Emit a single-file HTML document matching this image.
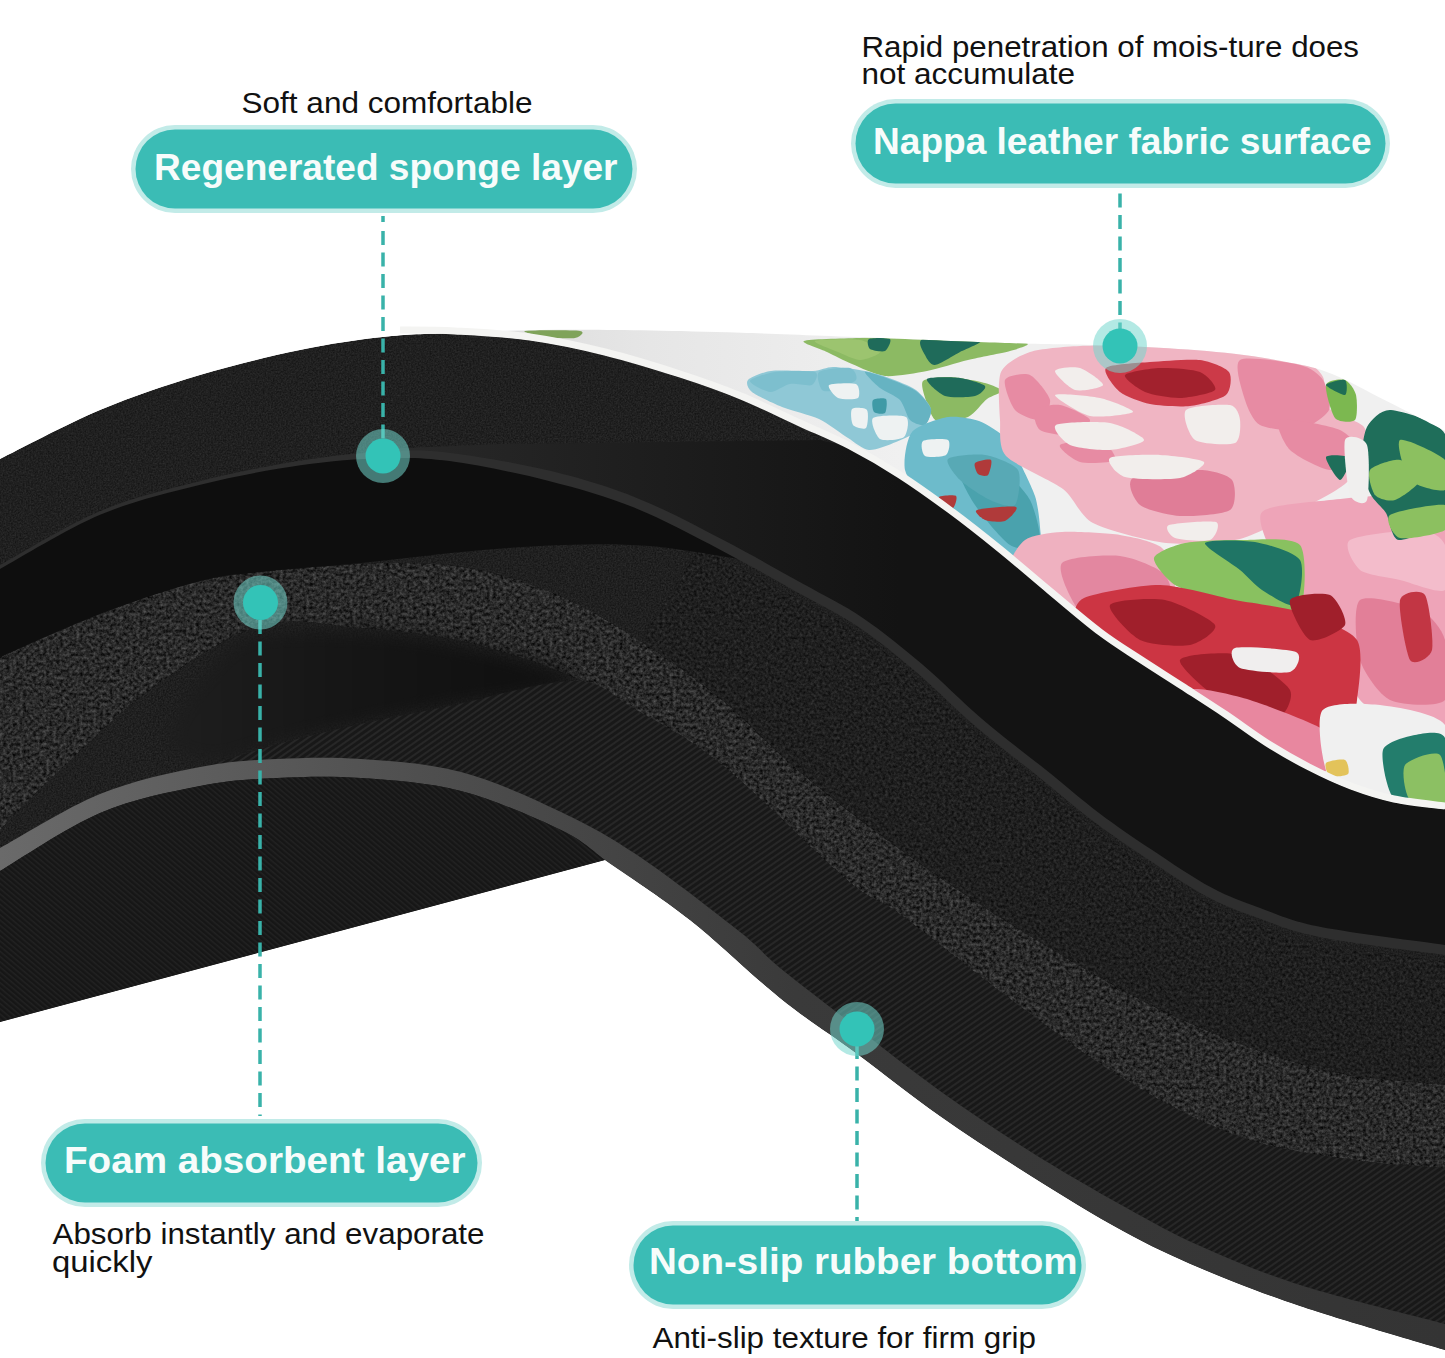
<!DOCTYPE html>
<html><head><meta charset="utf-8"><style>
html,body{margin:0;padding:0;background:#fff;width:1445px;height:1358px;overflow:hidden}
svg{display:block}
</style></head><body>
<svg width="1445" height="1358" viewBox="0 0 1445 1358">
<defs>
<filter id="grain" x="0" y="0" width="100%" height="100%">
  <feTurbulence type="fractalNoise" baseFrequency="0.9" numOctaves="2" seed="3" result="n"/>
  <feColorMatrix in="n" type="matrix" values="0 0 0 0 1  0 0 0 0 1  0 0 0 0 1  0 0 0 0.22 -0.06" result="na"/>
  <feComposite in="na" in2="SourceGraphic" operator="in" result="nb"/>
  <feMerge><feMergeNode in="SourceGraphic"/><feMergeNode in="nb"/></feMerge>
</filter>
<linearGradient id="bandg" x1="380" y1="0" x2="900" y2="0" gradientUnits="userSpaceOnUse">
  <stop offset="0" stop-color="#2a2a2a"/><stop offset="0.45" stop-color="#1f1f1f"/><stop offset="1" stop-color="#131313"/>
</linearGradient>
<linearGradient id="gg" x1="0" y1="0" x2="1445" y2="0" gradientUnits="userSpaceOnUse">
  <stop offset="0" stop-color="#6a6a6a"/><stop offset="0.3" stop-color="#4e4e4e"/><stop offset="0.55" stop-color="#3a3a3a"/><stop offset="1" stop-color="#343434"/>
</linearGradient>
<linearGradient id="flg" x1="400" y1="0" x2="900" y2="0" gradientUnits="userSpaceOnUse">
  <stop offset="0" stop-color="#d6d6d6"/><stop offset="0.5" stop-color="#e6e6e6"/><stop offset="1" stop-color="#f0f0f0"/>
</linearGradient>
<filter id="blur8" x="-20%" y="-20%" width="140%" height="140%" color-interpolation-filters="sRGB"><feGaussianBlur stdDeviation="9"/></filter>
<filter id="speck" x="0" y="0" width="100%" height="100%" color-interpolation-filters="sRGB">
  <feTurbulence type="fractalNoise" baseFrequency="0.3" numOctaves="3" seed="11" result="t"/>
  <feColorMatrix in="t" type="matrix" values="1 0 0 0 0  1 0 0 0 0  1 0 0 0 0  0 0 0 0 1" result="g"/>
  <feComposite in="g" in2="SourceGraphic" operator="arithmetic" k1="0" k2="0.40" k3="1" k4="-0.20" result="s"/>
  <feComposite in="s" in2="SourceAlpha" operator="in"/>
</filter>
<filter id="speck2" x="0" y="0" width="100%" height="100%" color-interpolation-filters="sRGB">
  <feTurbulence type="fractalNoise" baseFrequency="0.35" numOctaves="3" seed="21" result="t"/>
  <feColorMatrix in="t" type="matrix" values="1 0 0 0 0  1 0 0 0 0  1 0 0 0 0  0 0 0 0 1" result="g"/>
  <feComposite in="g" in2="SourceGraphic" operator="arithmetic" k1="0" k2="0.22" k3="1" k4="-0.11" result="s"/>
  <feComposite in="s" in2="SourceAlpha" operator="in"/>
</filter>
<filter id="fine" x="0" y="0" width="100%" height="100%" color-interpolation-filters="sRGB">
  <feTurbulence type="fractalNoise" baseFrequency="0.6" numOctaves="2" seed="4" result="t"/>
  <feColorMatrix in="t" type="matrix" values="1 0 0 0 0  1 0 0 0 0  1 0 0 0 0  0 0 0 0 1" result="g"/>
  <feComposite in="g" in2="SourceGraphic" operator="arithmetic" k1="0" k2="0.14" k3="1" k4="-0.07" result="s"/>
  <feComposite in="s" in2="SourceAlpha" operator="in"/>
</filter>
<pattern id="diag" width="5" height="5" patternUnits="userSpaceOnUse" patternTransform="rotate(-35)">
  <rect width="5" height="5" fill="#181818"/><rect width="5" height="2" fill="#272727"/>
</pattern>
<pattern id="diag2" width="4" height="4" patternUnits="userSpaceOnUse" patternTransform="rotate(40)">
  <rect width="4" height="4" fill="#161616"/><rect width="4" height="1.5" fill="#222222"/>
</pattern>
<linearGradient id="shg" x1="170" y1="0" x2="500" y2="0" gradientUnits="userSpaceOnUse">
  <stop offset="0" stop-color="#1e1e1e"/><stop offset="0.5" stop-color="#161616"/><stop offset="1" stop-color="#111111"/>
</linearGradient>
<clipPath id="fclip"><path d="M400.0,329.0 C409.2,329.5 425.0,331.7 455.0,331.8 C485.0,331.9 532.3,329.6 580.0,329.8 C627.7,330.0 671.0,330.6 741.0,332.8 C811.0,335.0 942.8,340.8 1000.0,342.8 C1057.2,344.8 1057.5,344.0 1084.0,344.8 C1110.5,345.6 1134.0,346.3 1159.0,347.8 C1184.0,349.3 1211.2,351.1 1234.0,353.8 C1256.8,356.5 1279.3,360.3 1296.0,363.8 C1312.7,367.3 1319.3,368.8 1334.0,374.8 C1348.7,380.8 1365.5,390.5 1384.0,399.8 C1402.5,409.1 1434.8,425.6 1445.0,430.8 L1445.0,809.0 C1436.5,807.8 1409.7,805.3 1394.0,802.0 C1378.3,798.7 1365.2,794.3 1351.0,789.0 C1336.8,783.7 1323.0,777.2 1309.0,770.0 C1295.0,762.8 1281.0,754.8 1267.0,746.0 C1253.0,737.2 1239.2,726.5 1225.0,717.0 C1210.8,707.5 1196.2,698.2 1182.0,689.0 C1167.8,679.8 1153.7,671.0 1140.0,662.0 C1126.3,653.0 1115.0,646.3 1100.0,635.0 C1085.0,623.7 1066.7,607.8 1050.0,594.0 C1033.3,580.2 1016.7,565.5 1000.0,552.0 C983.3,538.5 966.7,525.3 950.0,513.0 C933.3,500.7 916.7,488.7 900.0,478.0 C883.3,467.3 866.7,457.7 850.0,449.0 C833.3,440.3 818.2,434.3 800.0,426.0 C781.8,417.7 761.0,407.2 741.0,399.0 C721.0,390.8 702.7,384.3 680.0,377.0 C657.3,369.7 630.0,361.2 605.0,355.0 C580.0,348.8 555.0,343.5 530.0,340.0 C505.0,336.5 476.7,335.2 455.0,334.0 C433.3,332.8 409.2,333.2 400.0,333.0 Z"/></clipPath>
</defs>
<rect width="1445" height="1358" fill="#ffffff"/>

<path d="M0.0,459.0 C16.7,450.8 66.7,424.0 100.0,410.0 C133.3,396.0 166.7,385.0 200.0,375.0 C233.3,365.0 269.5,356.3 300.0,350.0 C330.5,343.7 357.2,339.8 383.0,337.0 C408.8,334.2 422.2,334.0 455.0,333.0 C487.8,332.0 532.3,330.8 580.0,331.0 C627.7,331.2 671.0,331.8 741.0,334.0 C811.0,336.2 942.8,342.0 1000.0,344.0 C1057.2,346.0 1057.5,345.2 1084.0,346.0 C1110.5,346.8 1134.0,347.5 1159.0,349.0 C1184.0,350.5 1211.2,352.3 1234.0,355.0 C1256.8,357.7 1279.3,361.5 1296.0,365.0 C1312.7,368.5 1319.3,370.0 1334.0,376.0 C1348.7,382.0 1365.5,391.7 1384.0,401.0 C1402.5,410.3 1434.8,426.8 1445.0,432.0 L1445.0,1350.0 C1420.8,1342.7 1340.8,1319.7 1300.0,1306.0 C1259.2,1292.3 1229.5,1280.5 1200.0,1268.0 C1170.5,1255.5 1151.2,1246.3 1123.0,1231.0 C1094.8,1215.7 1061.5,1195.2 1031.0,1176.0 C1000.5,1156.8 969.2,1136.5 940.0,1116.0 C910.8,1095.5 882.7,1072.7 856.0,1053.0 C829.3,1033.3 807.7,1020.2 780.0,998.0 C752.3,975.8 719.2,943.0 690.0,920.0 C660.8,897.0 619.2,870.0 605.0,860.0 L0.0,1022.0 Z" fill="#202020" filter="url(#fine)"/>
<path d="M700.0,548.0 C716.7,556.7 773.3,585.7 800.0,600.0 C826.7,614.3 840.2,620.7 860.0,634.0 C879.8,647.3 899.3,663.3 919.0,680.0 C938.7,696.7 957.3,716.3 978.0,734.0 C998.7,751.7 1023.3,770.2 1043.0,786.0 C1062.7,801.8 1078.3,815.7 1096.0,829.0 C1113.7,842.3 1130.2,853.5 1149.0,866.0 C1167.8,878.5 1190.7,894.2 1209.0,904.0 C1227.3,913.8 1240.5,918.3 1259.0,925.0 C1277.5,931.7 1289.0,937.8 1320.0,944.0 C1351.0,950.2 1424.2,959.0 1445.0,962.0 L1445.0,1085.0 C1423.3,1082.2 1361.7,1080.2 1315.0,1068.0 C1268.3,1055.8 1215.2,1035.7 1165.0,1012.0 C1114.8,988.3 1058.0,953.0 1014.0,926.0 C970.0,899.0 936.7,875.7 901.0,850.0 C865.3,824.3 829.8,797.0 800.0,772.0 C770.2,747.0 748.7,721.8 722.0,700.0 C695.3,678.2 653.7,650.8 640.0,641.0 Z" fill="#1f1f1f" filter="url(#speck2)"/>
<path d="M0.0,657.0 C16.7,649.8 66.7,626.7 100.0,614.0 C133.3,601.3 166.7,588.7 200.0,581.0 C233.3,573.3 266.7,571.0 300.0,568.0 C333.3,565.0 370.0,562.7 400.0,563.0 C430.0,563.3 453.3,564.5 480.0,570.0 C506.7,575.5 533.3,584.2 560.0,596.0 C586.7,607.8 613.0,623.7 640.0,641.0 C667.0,658.3 695.3,678.2 722.0,700.0 C748.7,721.8 770.2,747.0 800.0,772.0 C829.8,797.0 865.3,824.3 901.0,850.0 C936.7,875.7 970.0,899.0 1014.0,926.0 C1058.0,953.0 1114.8,988.3 1165.0,1012.0 C1215.2,1035.7 1268.3,1055.8 1315.0,1068.0 C1361.7,1080.2 1423.3,1082.2 1445.0,1085.0 C1445.0,1098.8 1445.0,1154.2 1445.0,1168.0 C1429.7,1166.7 1387.2,1165.2 1353.0,1160.0 C1318.8,1154.8 1277.7,1150.2 1240.0,1137.0 C1202.3,1123.8 1164.7,1103.5 1127.0,1081.0 C1089.3,1058.5 1051.7,1029.7 1014.0,1002.0 C976.3,974.3 928.8,935.3 901.0,915.0 C873.2,894.7 876.8,905.0 847.0,880.0 C817.2,855.0 757.2,793.3 722.0,765.0 C686.8,736.7 662.8,725.5 636.0,710.0 C609.2,694.5 590.2,683.5 561.0,672.0 C531.8,660.5 494.3,648.3 461.0,641.0 C427.7,633.7 394.5,630.5 361.0,628.0 C327.5,625.5 295.2,615.7 260.0,626.0 C224.8,636.3 183.3,666.0 150.0,690.0 C116.7,714.0 85.0,746.7 60.0,770.0 C35.0,793.3 10.0,820.0 0.0,830.0 Z" fill="#2a2a2a" filter="url(#speck)"/>
<path d="M185.0,700.0 C194.2,684.2 212.5,661.2 225.0,650.0 C237.5,638.8 237.3,636.0 260.0,633.0 C282.7,630.0 327.5,630.0 361.0,632.0 C394.5,634.0 425.3,636.8 461.0,645.0 C496.7,653.2 576.8,670.8 575.0,681.0 C573.2,691.2 485.7,698.8 450.0,706.0 C414.3,713.2 389.3,717.7 361.0,724.0 C332.7,730.3 304.3,737.7 280.0,744.0 C255.7,750.3 233.3,761.8 215.0,762.0 C196.7,762.2 175.0,755.3 170.0,745.0 C165.0,734.7 175.8,715.8 185.0,700.0 Z" fill="url(#shg)" filter="url(#blur8)"/>
<path d="M200.0,768.0 C212.5,764.2 248.2,752.3 275.0,745.0 C301.8,737.7 331.8,730.5 361.0,724.0 C390.2,717.5 414.3,713.2 450.0,706.0 C485.7,698.8 544.0,680.3 575.0,681.0 C606.0,681.7 611.5,696.0 636.0,710.0 C660.5,724.0 686.8,736.7 722.0,765.0 C757.2,793.3 817.2,855.0 847.0,880.0 C876.8,905.0 873.2,894.7 901.0,915.0 C928.8,935.3 976.3,974.3 1014.0,1002.0 C1051.7,1029.7 1089.3,1058.5 1127.0,1081.0 C1164.7,1103.5 1202.3,1123.8 1240.0,1137.0 C1277.7,1150.2 1318.8,1154.8 1353.0,1160.0 C1387.2,1165.2 1429.7,1166.7 1445.0,1168.0 L1445.0,1324.0 C1420.8,1317.5 1340.8,1298.0 1300.0,1285.0 C1259.2,1272.0 1229.5,1259.2 1200.0,1246.0 C1170.5,1232.8 1151.2,1221.7 1123.0,1206.0 C1094.8,1190.3 1061.5,1171.2 1031.0,1152.0 C1000.5,1132.8 969.2,1111.8 940.0,1091.0 C910.8,1070.2 882.7,1047.5 856.0,1027.0 C829.3,1006.5 799.3,983.8 780.0,968.0 C760.7,952.2 763.3,950.5 740.0,932.0 C716.7,913.5 669.8,877.0 640.0,857.0 C610.2,837.0 590.8,826.2 561.0,812.0 C531.2,797.8 494.3,780.8 461.0,772.0 C427.7,763.2 391.7,761.2 361.0,759.0 C330.3,756.8 303.8,757.7 277.0,759.0 C250.2,760.3 212.8,765.7 200.0,767.0 Z" fill="url(#diag)"/>
<path d="M0.0,848.0 C16.7,839.0 66.7,807.5 100.0,794.0 C133.3,780.5 170.5,772.8 200.0,767.0 C229.5,761.2 250.2,760.3 277.0,759.0 C303.8,757.7 330.3,756.8 361.0,759.0 C391.7,761.2 427.7,763.2 461.0,772.0 C494.3,780.8 531.2,797.8 561.0,812.0 C590.8,826.2 610.2,837.0 640.0,857.0 C669.8,877.0 716.7,913.5 740.0,932.0 C763.3,950.5 760.7,952.2 780.0,968.0 C799.3,983.8 829.3,1006.5 856.0,1027.0 C882.7,1047.5 910.8,1070.2 940.0,1091.0 C969.2,1111.8 1000.5,1132.8 1031.0,1152.0 C1061.5,1171.2 1094.8,1190.3 1123.0,1206.0 C1151.2,1221.7 1170.5,1232.8 1200.0,1246.0 C1229.5,1259.2 1259.2,1272.0 1300.0,1285.0 C1340.8,1298.0 1420.8,1317.5 1445.0,1324.0 L1445.0,1350.0 C1420.8,1342.7 1340.8,1319.7 1300.0,1306.0 C1259.2,1292.3 1229.5,1280.5 1200.0,1268.0 C1170.5,1255.5 1151.2,1246.3 1123.0,1231.0 C1094.8,1215.7 1061.5,1195.2 1031.0,1176.0 C1000.5,1156.8 969.2,1136.5 940.0,1116.0 C910.8,1095.5 882.7,1072.7 856.0,1053.0 C829.3,1033.3 807.7,1020.2 780.0,998.0 C752.3,975.8 719.2,943.0 690.0,920.0 C660.8,897.0 626.5,875.0 605.0,860.0 C583.5,845.0 585.0,841.5 561.0,830.0 C537.0,818.5 494.3,799.7 461.0,791.0 C427.7,782.3 391.7,780.2 361.0,778.0 C330.3,775.8 303.8,776.7 277.0,778.0 C250.2,779.3 229.5,780.2 200.0,786.0 C170.5,791.8 133.3,798.8 100.0,813.0 C66.7,827.2 16.7,861.3 0.0,871.0 Z" fill="url(#gg)"/>
<path d="M0.0,871.0 C16.7,861.3 66.7,827.2 100.0,813.0 C133.3,798.8 170.5,791.8 200.0,786.0 C229.5,780.2 250.2,779.3 277.0,778.0 C303.8,776.7 330.3,775.8 361.0,778.0 C391.7,780.2 427.7,782.3 461.0,791.0 C494.3,799.7 537.0,818.5 561.0,830.0 C585.0,841.5 597.7,855.0 605.0,860.0 L0.0,1022.0 Z" fill="url(#diag2)"/>
<path d="M383,449 L500,444 L820,440 C825.0,441.5 836.7,442.7 850.0,449.0 C863.3,455.3 883.3,467.3 900.0,478.0 C916.7,488.7 933.3,500.7 950.0,513.0 C966.7,525.3 983.3,538.5 1000.0,552.0 C1016.7,565.5 1033.3,580.2 1050.0,594.0 C1066.7,607.8 1085.0,623.7 1100.0,635.0 C1115.0,646.3 1126.3,653.0 1140.0,662.0 C1153.7,671.0 1167.8,679.8 1182.0,689.0 C1196.2,698.2 1210.8,707.5 1225.0,717.0 C1239.2,726.5 1253.0,737.2 1267.0,746.0 C1281.0,754.8 1295.0,762.8 1309.0,770.0 C1323.0,777.2 1336.8,783.7 1351.0,789.0 C1365.2,794.3 1378.3,798.7 1394.0,802.0 C1409.7,805.3 1436.5,807.8 1445.0,809.0 L1445.0,950.0 C1424.2,947.0 1351.0,938.2 1320.0,932.0 C1289.0,925.8 1277.5,919.7 1259.0,913.0 C1240.5,906.3 1227.3,901.8 1209.0,892.0 C1190.7,882.2 1167.8,866.5 1149.0,854.0 C1130.2,841.5 1113.7,830.3 1096.0,817.0 C1078.3,803.7 1062.7,789.8 1043.0,774.0 C1023.3,758.2 998.7,739.7 978.0,722.0 C957.3,704.3 938.7,684.7 919.0,668.0 C899.3,651.3 879.8,635.3 860.0,622.0 C840.2,608.7 823.0,600.8 800.0,588.0 C777.0,575.2 749.3,559.2 722.0,545.0 C694.7,530.8 664.7,514.5 636.0,503.0 C607.3,491.5 581.0,483.7 550.0,476.0 C519.0,468.3 477.8,460.5 450.0,457.0 C422.2,453.5 394.2,455.3 383.0,455.0 Z" fill="url(#bandg)"/>
<path d="M-5.0,570.0 C-4.2,569.5 -17.5,576.5 0.0,567.0 C17.5,557.5 66.7,527.0 100.0,513.0 C133.3,499.0 166.7,491.3 200.0,483.0 C233.3,474.7 269.5,467.7 300.0,463.0 C330.5,458.3 358.0,456.0 383.0,455.0 C408.0,454.0 422.2,453.5 450.0,457.0 C477.8,460.5 519.0,468.3 550.0,476.0 C581.0,483.7 607.3,491.5 636.0,503.0 C664.7,514.5 707.7,538.0 722.0,545.0 L745.0,560.0 C729.2,557.7 680.7,548.5 650.0,546.0 C619.3,543.5 592.5,544.0 561.0,545.0 C529.5,546.0 494.3,549.0 461.0,552.0 C427.7,555.0 394.5,559.7 361.0,563.0 C327.5,566.3 286.8,569.0 260.0,572.0 C233.2,575.0 226.7,574.0 200.0,581.0 C173.3,588.0 133.3,601.3 100.0,614.0 C66.7,626.7 16.7,649.8 0.0,657.0 L-5.0,660.0 Z" fill="#0e0e0e"/>
<path d="M-5.9,568.5 C-5.1,568.0 -18.4,575.0 -0.8,565.5 C16.7,555.9 65.9,525.4 99.3,511.4 C132.7,497.4 166.2,489.8 199.6,481.3 C233.0,472.9 269.1,465.6 299.6,460.7 C330.2,455.7 357.7,453.0 382.9,451.7 C408.0,450.4 422.5,449.6 450.5,452.9 C478.6,456.1 520.0,463.6 551.2,471.1 C582.4,478.7 609.0,486.8 637.9,498.4 C666.7,509.9 696.9,526.3 724.3,540.6 C751.7,554.8 779.4,570.8 802.4,583.6 C825.5,596.5 842.8,604.4 862.8,617.9 C882.8,631.3 902.5,647.5 922.2,664.2 C942.0,680.9 960.6,700.5 981.2,718.2 C1001.9,735.9 1026.5,754.3 1046.1,770.1 C1065.8,785.9 1081.4,799.7 1099.0,813.0 C1116.6,826.3 1133.0,837.4 1151.8,849.8 C1170.5,862.3 1193.2,877.9 1211.4,887.6 C1229.5,897.3 1242.4,901.7 1260.7,908.3 C1279.0,914.9 1290.1,921.0 1321.0,927.1 C1351.8,933.2 1424.1,941.9 1445.7,945.1 C1467.4,948.2 1450.1,945.9 1451.0,946.1 L1449.0,955.9 C1448.2,955.7 1465.9,958.1 1444.3,954.9 C1422.6,951.8 1350.2,943.1 1319.0,936.9 C1287.9,930.7 1276.0,924.5 1257.3,917.7 C1238.6,911.0 1225.1,906.3 1206.6,896.4 C1188.1,886.5 1165.2,870.7 1146.2,858.2 C1127.3,845.6 1110.7,834.4 1093.0,821.0 C1075.3,807.6 1059.6,793.8 1039.9,777.9 C1020.2,762.0 995.4,743.5 974.8,725.8 C954.1,708.1 935.4,688.4 915.8,671.8 C896.2,655.2 876.9,639.4 857.2,626.1 C837.5,612.9 820.5,605.2 797.6,592.4 C774.6,579.6 746.9,563.6 719.7,549.4 C692.5,535.3 662.6,519.1 634.1,507.6 C605.7,496.2 579.6,488.6 548.8,480.9 C518.0,473.1 477.1,464.9 449.5,461.1 C421.9,457.4 408.0,457.6 383.1,458.3 C358.3,459.0 330.8,460.9 300.4,465.3 C269.9,469.7 233.7,476.5 200.4,484.7 C167.1,492.9 133.9,500.6 100.7,514.6 C67.4,528.6 18.3,559.1 0.8,568.5 C-16.6,578.0 -3.3,571.0 -4.1,571.5 Z" fill="#2e2e2e"/>
<path d="M400.0,329.0 C409.2,329.5 425.0,331.7 455.0,331.8 C485.0,331.9 532.3,329.6 580.0,329.8 C627.7,330.0 671.0,330.6 741.0,332.8 C811.0,335.0 942.8,340.8 1000.0,342.8 C1057.2,344.8 1057.5,344.0 1084.0,344.8 C1110.5,345.6 1134.0,346.3 1159.0,347.8 C1184.0,349.3 1211.2,351.1 1234.0,353.8 C1256.8,356.5 1279.3,360.3 1296.0,363.8 C1312.7,367.3 1319.3,368.8 1334.0,374.8 C1348.7,380.8 1365.5,390.5 1384.0,399.8 C1402.5,409.1 1434.8,425.6 1445.0,430.8 L1445.0,809.0 C1436.5,807.8 1409.7,805.3 1394.0,802.0 C1378.3,798.7 1365.2,794.3 1351.0,789.0 C1336.8,783.7 1323.0,777.2 1309.0,770.0 C1295.0,762.8 1281.0,754.8 1267.0,746.0 C1253.0,737.2 1239.2,726.5 1225.0,717.0 C1210.8,707.5 1196.2,698.2 1182.0,689.0 C1167.8,679.8 1153.7,671.0 1140.0,662.0 C1126.3,653.0 1115.0,646.3 1100.0,635.0 C1085.0,623.7 1066.7,607.8 1050.0,594.0 C1033.3,580.2 1016.7,565.5 1000.0,552.0 C983.3,538.5 966.7,525.3 950.0,513.0 C933.3,500.7 916.7,488.7 900.0,478.0 C883.3,467.3 866.7,457.7 850.0,449.0 C833.3,440.3 818.2,434.3 800.0,426.0 C781.8,417.7 761.0,407.2 741.0,399.0 C721.0,390.8 702.7,384.3 680.0,377.0 C657.3,369.7 630.0,361.2 605.0,355.0 C580.0,348.8 555.0,343.5 530.0,340.0 C505.0,336.5 476.7,335.2 455.0,334.0 C433.3,332.8 409.2,333.2 400.0,333.0 Z" fill="url(#flg)"/>
<g clip-path="url(#fclip)"><path d="M525.0,331.0 C529.4,330.2 573.8,330.1 580.0,331.0 C586.2,331.9 579.4,337.2 575.0,338.0 C570.6,338.8 551.2,337.9 545.0,337.0 C538.8,336.1 520.6,331.8 525.0,331.0 Z" fill="#7fa35a"/>
<path d="M804.0,341.0 C808.1,339.2 841.8,338.4 860.0,338.0 C878.2,337.6 929.2,337.4 950.0,338.0 C970.8,338.6 1018.5,341.4 1026.0,343.0 C1033.5,344.6 1017.2,348.9 1010.0,351.0 C1002.8,353.1 978.4,357.5 968.0,360.0 C957.6,362.5 937.4,369.0 927.0,371.0 C916.6,373.0 894.4,376.9 885.0,376.0 C875.6,375.1 859.2,367.0 852.0,364.0 C844.8,361.0 833.0,354.9 827.0,352.0 C821.0,349.1 799.9,342.8 804.0,341.0 Z" fill="#8cba63"/>
<path d="M815.0,341.0 C817.8,339.5 851.9,338.6 860.0,340.0 C868.1,341.4 880.0,349.5 880.0,352.0 C880.0,354.5 865.2,360.0 860.0,360.0 C854.8,360.0 843.6,354.4 838.0,352.0 C832.4,349.6 812.2,342.5 815.0,341.0 Z" fill="#9cc46f"/>
<path d="M869.0,339.0 C871.5,337.8 888.0,337.5 890.0,339.0 C892.0,340.5 887.5,349.8 885.0,351.0 C882.5,352.2 872.0,350.5 870.0,349.0 C868.0,347.5 866.5,340.2 869.0,339.0 Z" fill="#1f6b5a"/>
<path d="M923.0,339.0 C930.0,337.1 976.4,338.4 981.0,340.0 C985.6,341.6 965.8,348.9 960.0,352.0 C954.2,355.1 939.4,364.6 935.0,365.0 C930.6,365.4 926.5,358.2 925.0,355.0 C923.5,351.8 916.0,340.9 923.0,339.0 Z" fill="#1f6b5a"/>
<path d="M923.0,381.0 C925.9,377.8 942.2,376.8 950.0,377.0 C957.8,377.2 978.5,381.2 985.0,383.0 C991.5,384.8 1001.8,389.0 1002.0,391.0 C1002.2,393.0 991.2,395.8 987.0,399.0 C982.8,402.2 974.2,414.2 968.0,417.0 C961.8,419.8 942.1,422.8 937.0,421.0 C931.9,419.2 928.8,408.0 927.0,403.0 C925.2,398.0 920.1,384.2 923.0,381.0 Z" fill="#8cba63"/>
<path d="M927.0,379.0 C928.9,376.8 952.8,377.1 960.0,378.0 C967.2,378.9 983.1,383.8 985.0,386.0 C986.9,388.2 980.0,394.8 975.0,396.0 C970.0,397.2 951.0,398.1 945.0,396.0 C939.0,393.9 925.1,381.2 927.0,379.0 Z" fill="#1f6b5a"/>
<path d="M748.0,380.0 C750.4,377.4 762.9,372.1 771.0,371.0 C779.1,369.9 805.2,371.5 813.0,371.0 C820.8,370.5 826.5,367.0 833.0,367.0 C839.5,367.0 858.0,369.6 865.0,371.0 C872.0,372.4 882.6,375.6 889.0,378.0 C895.4,380.4 910.8,386.1 916.0,390.0 C921.2,393.9 930.1,404.2 931.0,409.0 C931.9,413.8 927.4,423.9 923.0,428.0 C918.6,432.1 902.8,439.2 896.0,442.0 C889.2,444.8 875.0,450.5 869.0,450.0 C863.0,449.5 854.2,441.9 848.0,438.0 C841.8,434.1 827.2,422.9 819.0,419.0 C810.8,415.1 790.4,410.4 782.0,407.0 C773.6,403.6 756.2,395.4 752.0,392.0 C747.8,388.6 745.6,382.6 748.0,380.0 Z" fill="#8fc8d6"/>
<path d="M750.0,381.0 C750.6,378.5 766.9,373.1 775.0,372.0 C783.1,370.9 810.4,370.4 815.0,372.0 C819.6,373.6 815.1,383.5 812.0,385.0 C808.9,386.5 795.2,383.1 790.0,384.0 C784.8,384.9 775.0,392.4 770.0,392.0 C765.0,391.6 749.4,383.5 750.0,381.0 Z" fill="#7dbfce"/>
<path d="M865.0,372.0 C866.1,370.9 882.6,376.6 889.0,379.0 C895.4,381.4 910.8,387.2 916.0,391.0 C921.2,394.8 929.9,404.8 931.0,409.0 C932.1,413.2 927.6,423.6 925.0,425.0 C922.4,426.4 913.1,423.1 910.0,420.0 C906.9,416.9 903.8,404.0 900.0,400.0 C896.2,396.0 884.4,391.5 880.0,388.0 C875.6,384.5 863.9,373.1 865.0,372.0 Z" fill="#66b3c2"/>
<path d="M819.0,372.0 C822.5,369.2 845.4,367.0 850.0,368.0 C854.6,369.0 857.9,377.2 856.0,380.0 C854.1,382.8 839.2,388.8 835.0,390.0 C830.8,391.2 824.0,392.2 822.0,390.0 C820.0,387.8 815.5,374.8 819.0,372.0 Z" fill="#7dbfce"/>
<path d="M873.0,400.0 C874.5,398.4 884.5,397.4 886.0,399.0 C887.5,400.6 886.5,411.4 885.0,413.0 C883.5,414.6 875.5,413.6 874.0,412.0 C872.5,410.4 871.5,401.6 873.0,400.0 Z" fill="#3f9aa6"/>
<path d="M829.0,385.0 C831.2,383.2 852.4,382.4 856.0,384.0 C859.6,385.6 860.2,396.2 858.0,398.0 C855.8,399.8 841.6,399.6 838.0,398.0 C834.4,396.4 826.8,386.8 829.0,385.0 Z" fill="#eef2f2"/>
<path d="M852.0,409.0 C853.8,407.1 865.2,407.6 867.0,410.0 C868.8,412.4 867.8,426.1 866.0,428.0 C864.2,429.9 854.8,427.4 853.0,425.0 C851.2,422.6 850.2,410.9 852.0,409.0 Z" fill="#eef2f2"/>
<path d="M873.0,418.0 C876.2,415.2 902.1,414.6 906.0,417.0 C909.9,419.4 907.2,434.2 904.0,437.0 C900.8,439.8 883.9,441.4 880.0,439.0 C876.1,436.6 869.8,420.8 873.0,418.0 Z" fill="#eef2f2"/>
<path d="M912.0,432.0 C917.4,425.4 939.6,418.4 948.0,417.0 C956.4,415.6 971.8,418.4 979.0,421.0 C986.2,423.6 1001.1,433.2 1006.0,438.0 C1010.9,442.8 1014.4,451.8 1018.0,459.0 C1021.6,466.2 1032.2,487.5 1035.0,496.0 C1037.8,504.5 1039.4,519.0 1040.0,527.0 C1040.6,535.0 1043.8,555.9 1040.0,560.0 C1036.2,564.1 1019.0,563.8 1010.0,560.0 C1001.0,556.2 978.4,537.5 968.0,530.0 C957.6,522.5 934.9,507.5 927.0,500.0 C919.1,492.5 906.9,478.5 905.0,470.0 C903.1,461.5 906.6,438.6 912.0,432.0 Z" fill="#6dbbcb"/>
<path d="M960.0,470.0 C963.1,465.6 991.2,466.2 1000.0,470.0 C1008.8,473.8 1025.0,490.6 1030.0,500.0 C1035.0,509.4 1042.5,539.4 1040.0,545.0 C1037.5,550.6 1018.1,550.0 1010.0,545.0 C1001.9,540.0 981.2,514.4 975.0,505.0 C968.8,495.6 956.9,474.4 960.0,470.0 Z" fill="#4aa2ad"/>
<path d="M923.0,441.0 C925.9,439.0 945.1,438.2 948.0,440.0 C950.9,441.8 948.9,453.0 946.0,455.0 C943.1,457.0 927.9,457.8 925.0,456.0 C922.1,454.2 920.1,443.0 923.0,441.0 Z" fill="#eef2f2"/>
<path d="M948.0,459.0 C951.1,455.9 976.2,453.6 985.0,455.0 C993.8,456.4 1014.2,463.8 1018.0,470.0 C1021.8,476.2 1018.5,501.2 1015.0,505.0 C1011.5,508.8 996.9,503.1 990.0,500.0 C983.1,496.9 965.2,485.1 960.0,480.0 C954.8,474.9 944.9,462.1 948.0,459.0 Z" fill="#58a9b5"/>
<path d="M975.0,463.0 C976.6,461.2 989.4,458.5 991.0,460.0 C992.6,461.5 989.6,473.2 988.0,475.0 C986.4,476.8 979.6,475.5 978.0,474.0 C976.4,472.5 973.4,464.8 975.0,463.0 Z" fill="#b03a3a"/>
<path d="M977.0,510.0 C980.9,508.4 1012.5,505.6 1016.0,507.0 C1019.5,508.4 1008.9,519.4 1005.0,521.0 C1001.1,522.6 988.5,521.4 985.0,520.0 C981.5,518.6 973.1,511.6 977.0,510.0 Z" fill="#b03a3a"/>
<path d="M939.0,497.0 C940.9,495.6 954.2,494.6 956.0,496.0 C957.8,497.4 954.9,506.6 953.0,508.0 C951.1,509.4 942.8,508.4 941.0,507.0 C939.2,505.6 937.1,498.4 939.0,497.0 Z" fill="#b03a3a"/>
<path d="M1001.0,372.0 C1004.8,363.5 1020.1,355.2 1030.0,352.0 C1039.9,348.8 1063.8,346.8 1080.0,346.0 C1096.2,345.2 1140.0,345.5 1160.0,346.0 C1180.0,346.5 1222.0,348.0 1240.0,350.0 C1258.0,352.0 1293.6,358.6 1304.0,362.0 C1314.4,365.4 1319.9,371.2 1323.0,377.0 C1326.1,382.8 1323.9,401.8 1329.0,408.0 C1334.1,414.2 1359.6,421.0 1364.0,427.0 C1368.4,433.0 1366.4,448.9 1364.0,456.0 C1361.6,463.1 1353.0,477.2 1345.0,484.0 C1337.0,490.8 1313.1,503.1 1300.0,510.0 C1286.9,516.9 1256.8,534.9 1240.0,539.0 C1223.2,543.1 1184.4,545.0 1166.0,543.0 C1147.6,541.0 1105.9,529.8 1093.0,523.0 C1080.1,516.2 1073.9,497.4 1063.0,489.0 C1052.1,480.6 1013.9,464.6 1006.0,456.0 C998.1,447.4 1000.6,430.5 1000.0,420.0 C999.4,409.5 997.2,380.5 1001.0,372.0 Z" fill="#f0b5c3"/>
<path d="M1005.0,380.0 C1006.9,375.6 1024.4,372.5 1030.0,375.0 C1035.6,377.5 1048.8,394.4 1050.0,400.0 C1051.2,405.6 1044.4,418.8 1040.0,420.0 C1035.6,421.2 1019.4,415.0 1015.0,410.0 C1010.6,405.0 1003.1,384.4 1005.0,380.0 Z" fill="#e78ba3"/>
<path d="M1035.0,410.0 C1037.5,406.9 1053.1,403.8 1060.0,405.0 C1066.9,406.2 1088.8,416.2 1090.0,420.0 C1091.2,423.8 1076.2,433.8 1070.0,435.0 C1063.8,436.2 1044.4,433.1 1040.0,430.0 C1035.6,426.9 1032.5,413.1 1035.0,410.0 Z" fill="#e78ba3"/>
<path d="M1060.0,445.0 C1062.5,442.2 1093.1,438.1 1100.0,440.0 C1106.9,441.9 1117.5,457.2 1115.0,460.0 C1112.5,462.8 1086.9,463.9 1080.0,462.0 C1073.1,460.1 1057.5,447.8 1060.0,445.0 Z" fill="#e78ba3"/>
<path d="M1133.0,478.0 C1140.5,473.6 1187.6,469.8 1200.0,470.0 C1212.4,470.2 1228.2,475.0 1232.0,480.0 C1235.8,485.0 1236.5,505.5 1230.0,510.0 C1223.5,514.5 1191.2,516.6 1180.0,516.0 C1168.8,515.4 1145.9,509.8 1140.0,505.0 C1134.1,500.2 1125.5,482.4 1133.0,478.0 Z" fill="#e07d97"/>
<path d="M1240.0,360.0 C1246.9,355.6 1289.6,362.5 1300.0,365.0 C1310.4,367.5 1319.4,374.4 1323.0,380.0 C1326.6,385.6 1331.9,403.8 1329.0,410.0 C1326.1,416.2 1308.6,428.1 1300.0,430.0 C1291.4,431.9 1266.9,428.8 1260.0,425.0 C1253.1,421.2 1247.5,408.1 1245.0,400.0 C1242.5,391.9 1233.1,364.4 1240.0,360.0 Z" fill="#e78ba3"/>
<path d="M1280.0,420.0 C1286.2,417.5 1330.0,425.6 1340.0,430.0 C1350.0,434.4 1361.2,450.0 1360.0,455.0 C1358.8,460.0 1338.8,470.6 1330.0,470.0 C1321.2,469.4 1296.2,456.2 1290.0,450.0 C1283.8,443.8 1273.8,422.5 1280.0,420.0 Z" fill="#e78ba3"/>
<path d="M1055.0,371.0 C1055.6,368.2 1074.0,366.2 1080.0,368.0 C1086.0,369.8 1103.6,382.2 1103.0,385.0 C1102.4,387.8 1081.0,391.8 1075.0,390.0 C1069.0,388.2 1054.4,373.8 1055.0,371.0 Z" fill="#f2eeec"/>
<path d="M1055.0,395.0 C1056.2,392.8 1090.2,395.9 1100.0,398.0 C1109.8,400.1 1134.2,409.8 1133.0,412.0 C1131.8,414.2 1099.8,418.1 1090.0,416.0 C1080.2,413.9 1053.8,397.2 1055.0,395.0 Z" fill="#f2eeec"/>
<path d="M1056.0,425.0 C1061.0,422.2 1099.0,421.1 1110.0,423.0 C1121.0,424.9 1144.0,436.6 1144.0,440.0 C1144.0,443.4 1119.2,449.4 1110.0,450.0 C1100.8,450.6 1076.8,448.1 1070.0,445.0 C1063.2,441.9 1051.0,427.8 1056.0,425.0 Z" fill="#f2eeec"/>
<path d="M1110.0,458.0 C1114.4,455.2 1148.2,454.5 1160.0,455.0 C1171.8,455.5 1201.5,459.1 1204.0,462.0 C1206.5,464.9 1189.9,476.1 1180.0,478.0 C1170.1,479.9 1133.8,479.5 1125.0,477.0 C1116.2,474.5 1105.6,460.8 1110.0,458.0 Z" fill="#f2eeec"/>
<path d="M1186.0,410.0 C1190.4,405.6 1223.2,403.8 1230.0,405.0 C1236.8,406.2 1239.4,415.2 1240.0,420.0 C1240.6,424.8 1240.6,440.5 1235.0,443.0 C1229.4,445.5 1201.1,444.1 1195.0,440.0 C1188.9,435.9 1181.6,414.4 1186.0,410.0 Z" fill="#f2eeec"/>
<path d="M1169.0,525.0 C1174.1,523.0 1210.9,520.1 1216.0,522.0 C1221.1,523.9 1215.1,538.0 1210.0,540.0 C1204.9,542.0 1180.1,539.9 1175.0,538.0 C1169.9,536.1 1163.9,527.0 1169.0,525.0 Z" fill="#f2eeec"/>
<path d="M1106.0,368.0 C1109.8,364.2 1138.2,363.0 1150.0,362.0 C1161.8,361.0 1190.1,358.8 1200.0,360.0 C1209.9,361.2 1225.8,367.6 1229.0,372.0 C1232.2,376.4 1230.9,390.8 1226.0,395.0 C1221.1,399.2 1199.5,404.9 1190.0,406.0 C1180.5,407.1 1158.8,405.8 1150.0,404.0 C1141.2,402.2 1125.5,396.5 1120.0,392.0 C1114.5,387.5 1102.2,371.8 1106.0,368.0 Z" fill="#cc3a48"/>
<path d="M1125.0,375.0 C1126.9,372.0 1150.6,368.4 1160.0,368.0 C1169.4,367.6 1193.1,369.2 1200.0,372.0 C1206.9,374.8 1217.5,386.8 1215.0,390.0 C1212.5,393.2 1188.8,397.8 1180.0,398.0 C1171.2,398.2 1151.9,394.9 1145.0,392.0 C1138.1,389.1 1123.1,378.0 1125.0,375.0 Z" fill="#a2212d"/>
<path d="M1025.0,540.0 C1031.5,535.2 1050.1,532.6 1062.0,532.0 C1073.9,531.4 1107.5,533.0 1120.0,535.0 C1132.5,537.0 1155.1,541.8 1162.0,548.0 C1168.9,554.2 1175.2,575.8 1175.0,585.0 C1174.8,594.2 1169.4,612.6 1160.0,622.0 C1150.6,631.4 1115.0,660.2 1100.0,660.0 C1085.0,659.8 1051.2,631.2 1040.0,620.0 C1028.8,608.8 1011.9,580.0 1010.0,570.0 C1008.1,560.0 1018.5,544.8 1025.0,540.0 Z" fill="#efb1c0"/>
<path d="M1062.0,563.0 C1067.6,556.9 1107.1,554.5 1120.0,556.0 C1132.9,557.5 1158.8,567.6 1165.0,575.0 C1171.2,582.4 1176.9,606.9 1170.0,615.0 C1163.1,623.1 1121.9,641.2 1110.0,640.0 C1098.1,638.8 1081.0,614.6 1075.0,605.0 C1069.0,595.4 1056.4,569.1 1062.0,563.0 Z" fill="#e387a0"/>
<path d="M1262.0,512.0 C1268.9,504.5 1312.8,502.1 1330.0,500.0 C1347.2,497.9 1385.6,494.4 1400.0,495.0 C1414.4,495.6 1439.4,475.2 1445.0,505.0 C1450.6,534.8 1450.6,705.5 1445.0,733.0 C1439.4,760.5 1410.6,729.1 1400.0,725.0 C1389.4,720.9 1367.5,709.4 1360.0,700.0 C1352.5,690.6 1347.5,662.5 1340.0,650.0 C1332.5,637.5 1308.1,611.2 1300.0,600.0 C1291.9,588.8 1279.8,571.0 1275.0,560.0 C1270.2,549.0 1255.1,519.5 1262.0,512.0 Z" fill="#eea4b8"/>
<path d="M1350.0,540.0 C1357.5,535.0 1408.1,529.4 1420.0,530.0 C1431.9,530.6 1441.9,537.5 1445.0,545.0 C1448.1,552.5 1450.6,585.6 1445.0,590.0 C1439.4,594.4 1410.6,582.5 1400.0,580.0 C1389.4,577.5 1366.2,575.0 1360.0,570.0 C1353.8,565.0 1342.5,545.0 1350.0,540.0 Z" fill="#f3bccb"/>
<path d="M1360.0,600.0 C1367.5,593.8 1409.4,605.0 1420.0,610.0 C1430.6,615.0 1441.9,628.8 1445.0,640.0 C1448.1,651.2 1451.9,692.5 1445.0,700.0 C1438.1,707.5 1400.6,705.0 1390.0,700.0 C1379.4,695.0 1363.8,672.5 1360.0,660.0 C1356.2,647.5 1352.5,606.2 1360.0,600.0 Z" fill="#e27f98"/>
<path d="M1400.0,600.0 C1401.9,591.9 1421.0,588.8 1425.0,595.0 C1429.0,601.2 1433.9,641.9 1432.0,650.0 C1430.1,658.1 1414.0,666.2 1410.0,660.0 C1406.0,653.8 1398.1,608.1 1400.0,600.0 Z" fill="#c23644"/>
<path d="M1154.0,558.0 C1155.2,552.8 1174.2,545.2 1185.0,543.0 C1195.8,540.8 1225.6,539.8 1240.0,540.0 C1254.4,540.2 1292.5,536.1 1300.0,545.0 C1307.5,553.9 1305.0,602.6 1300.0,611.0 C1295.0,619.4 1270.6,613.6 1260.0,612.0 C1249.4,610.4 1225.6,601.4 1215.0,598.0 C1204.4,594.6 1182.6,590.0 1175.0,585.0 C1167.4,580.0 1152.8,563.2 1154.0,558.0 Z" fill="#89c160"/>
<path d="M1205.0,543.0 C1206.9,539.5 1243.1,539.9 1255.0,542.0 C1266.9,544.1 1295.0,552.1 1300.0,560.0 C1305.0,567.9 1299.8,601.2 1295.0,605.0 C1290.2,608.8 1268.9,594.4 1262.0,590.0 C1255.1,585.6 1247.1,575.9 1240.0,570.0 C1232.9,564.1 1203.1,546.5 1205.0,543.0 Z" fill="#1f7565"/>
<path d="M1084.0,598.0 C1094.6,593.0 1141.1,584.8 1160.0,585.0 C1178.9,585.2 1217.5,596.6 1235.0,600.0 C1252.5,603.4 1284.8,607.0 1300.0,612.0 C1315.2,617.0 1349.9,629.0 1357.0,640.0 C1364.1,651.0 1358.5,687.5 1357.0,700.0 C1355.5,712.5 1352.1,732.5 1345.0,740.0 C1337.9,747.5 1311.9,758.8 1300.0,760.0 C1288.1,761.2 1262.5,755.0 1250.0,750.0 C1237.5,745.0 1212.5,726.9 1200.0,720.0 C1187.5,713.1 1162.5,702.5 1150.0,695.0 C1137.5,687.5 1109.4,668.8 1100.0,660.0 C1090.6,651.2 1077.0,632.8 1075.0,625.0 C1073.0,617.2 1073.4,603.0 1084.0,598.0 Z" fill="#cc3543"/>
<path d="M1110.0,605.0 C1113.1,600.0 1151.9,597.5 1165.0,600.0 C1178.1,602.5 1211.9,619.4 1215.0,625.0 C1218.1,630.6 1199.4,643.1 1190.0,645.0 C1180.6,646.9 1150.0,645.0 1140.0,640.0 C1130.0,635.0 1106.9,610.0 1110.0,605.0 Z" fill="#a01f2b"/>
<path d="M1290.0,600.0 C1292.5,594.4 1323.1,591.9 1330.0,595.0 C1336.9,598.1 1347.5,619.4 1345.0,625.0 C1342.5,630.6 1316.9,643.1 1310.0,640.0 C1303.1,636.9 1287.5,605.6 1290.0,600.0 Z" fill="#a01f2b"/>
<path d="M1180.0,660.0 C1182.5,654.4 1226.2,651.2 1240.0,655.0 C1253.8,658.8 1285.6,681.9 1290.0,690.0 C1294.4,698.1 1283.8,718.8 1275.0,720.0 C1266.2,721.2 1231.9,707.5 1220.0,700.0 C1208.1,692.5 1177.5,665.6 1180.0,660.0 Z" fill="#a01f2b"/>
<path d="M1235.0,648.0 C1242.0,646.0 1289.1,649.0 1296.0,652.0 C1302.9,655.0 1297.0,670.0 1290.0,672.0 C1283.0,674.0 1246.9,671.0 1240.0,668.0 C1233.1,665.0 1228.0,650.0 1235.0,648.0 Z" fill="#f0eeee"/>
<path d="M1190.0,690.0 C1195.0,686.2 1232.1,694.4 1250.0,700.0 C1267.9,705.6 1322.4,726.2 1333.0,735.0 C1343.6,743.8 1344.1,766.2 1335.0,770.0 C1325.9,773.8 1275.6,770.0 1260.0,765.0 C1244.4,760.0 1218.8,739.4 1210.0,730.0 C1201.2,720.6 1185.0,693.8 1190.0,690.0 Z" fill="#e8879f"/>
<path d="M1326.0,385.0 C1327.2,380.2 1341.2,378.8 1345.0,380.0 C1348.8,381.2 1354.8,390.0 1356.0,395.0 C1357.2,400.0 1357.6,417.1 1355.0,420.0 C1352.4,422.9 1338.6,422.4 1335.0,418.0 C1331.4,413.6 1324.8,389.8 1326.0,385.0 Z" fill="#7cb850"/>
<path d="M1326.0,385.0 C1326.0,383.1 1342.6,378.8 1345.0,380.0 C1347.4,381.2 1347.4,394.4 1345.0,395.0 C1342.6,395.6 1326.0,386.9 1326.0,385.0 Z" fill="#1f6e55"/>
<path d="M1367.0,427.0 C1370.8,419.9 1381.2,409.1 1391.0,410.0 C1400.8,410.9 1438.2,420.8 1445.0,434.0 C1451.8,447.2 1450.8,502.8 1445.0,516.0 C1439.2,529.2 1406.4,540.4 1399.0,540.0 C1391.6,539.6 1389.5,518.6 1386.0,513.0 C1382.5,507.4 1374.1,500.8 1371.0,495.0 C1367.9,489.2 1361.5,475.5 1361.0,467.0 C1360.5,458.5 1363.2,434.1 1367.0,427.0 Z" fill="#1f6e5a"/>
<path d="M1370.0,470.0 C1373.1,465.6 1393.8,458.8 1400.0,460.0 C1406.2,461.2 1420.6,475.0 1420.0,480.0 C1419.4,485.0 1400.6,498.1 1395.0,500.0 C1389.4,501.9 1378.1,498.8 1375.0,495.0 C1371.9,491.2 1366.9,474.4 1370.0,470.0 Z" fill="#8cc060"/>
<path d="M1400.0,440.0 C1404.4,437.5 1439.4,453.8 1445.0,460.0 C1450.6,466.2 1449.4,487.5 1445.0,490.0 C1440.6,492.5 1415.6,486.2 1410.0,480.0 C1404.4,473.8 1395.6,442.5 1400.0,440.0 Z" fill="#8cc060"/>
<path d="M1390.0,515.0 C1395.6,510.9 1438.1,503.1 1445.0,505.0 C1451.9,506.9 1450.6,525.9 1445.0,530.0 C1439.4,534.1 1406.9,539.9 1400.0,538.0 C1393.1,536.1 1384.4,519.1 1390.0,515.0 Z" fill="#8cc060"/>
<path d="M1326.0,457.0 C1327.2,454.2 1348.2,455.1 1350.0,458.0 C1351.8,460.9 1343.0,480.1 1340.0,480.0 C1337.0,479.9 1324.8,459.8 1326.0,457.0 Z" fill="#1f6e5a"/>
<path d="M1345.0,440.0 C1347.1,433.8 1364.2,437.5 1367.0,445.0 C1369.8,452.5 1369.1,493.8 1367.0,500.0 C1364.9,506.2 1352.8,502.5 1350.0,495.0 C1347.2,487.5 1342.9,446.2 1345.0,440.0 Z" fill="#f0efee"/>
<path d="M1322.0,711.0 C1328.2,701.6 1364.6,703.2 1380.0,705.0 C1395.4,706.8 1436.9,713.1 1445.0,725.0 C1453.1,736.9 1453.1,791.2 1445.0,800.0 C1436.9,808.8 1394.4,797.5 1380.0,795.0 C1365.6,792.5 1337.2,790.5 1330.0,780.0 C1322.8,769.5 1315.8,720.4 1322.0,711.0 Z" fill="#f0f0f0"/>
<path d="M1383.0,750.0 C1385.5,741.9 1407.2,736.5 1415.0,735.0 C1422.8,733.5 1441.2,729.5 1445.0,738.0 C1448.8,746.5 1451.2,795.2 1445.0,803.0 C1438.8,810.8 1402.8,806.6 1395.0,800.0 C1387.2,793.4 1380.5,758.1 1383.0,750.0 Z" fill="#237d6c"/>
<path d="M1405.0,765.0 C1408.8,759.4 1435.0,750.0 1440.0,755.0 C1445.0,760.0 1448.8,799.4 1445.0,805.0 C1441.2,810.6 1415.0,805.0 1410.0,800.0 C1405.0,795.0 1401.2,770.6 1405.0,765.0 Z" fill="#8cc063"/>
<path d="M1326.0,763.0 C1327.9,761.0 1342.2,758.6 1345.0,760.0 C1347.8,761.4 1349.9,772.0 1348.0,774.0 C1346.1,776.0 1332.8,777.4 1330.0,776.0 C1327.2,774.6 1324.1,765.0 1326.0,763.0 Z" fill="#e3c35a"/></g>
<path d="M400.0,333.0 C409.2,333.2 433.3,332.8 455.0,334.0 C476.7,335.2 505.0,336.5 530.0,340.0 C555.0,343.5 580.0,348.8 605.0,355.0 C630.0,361.2 657.3,369.7 680.0,377.0 C702.7,384.3 721.0,390.8 741.0,399.0 C761.0,407.2 781.8,417.7 800.0,426.0 C818.2,434.3 833.3,440.3 850.0,449.0 C866.7,457.7 883.3,467.3 900.0,478.0 C916.7,488.7 933.3,500.7 950.0,513.0 C966.7,525.3 983.3,538.5 1000.0,552.0 C1016.7,565.5 1033.3,580.2 1050.0,594.0 C1066.7,607.8 1085.0,623.7 1100.0,635.0 C1115.0,646.3 1126.3,653.0 1140.0,662.0 C1153.7,671.0 1167.8,679.8 1182.0,689.0 C1196.2,698.2 1210.8,707.5 1225.0,717.0 C1239.2,726.5 1253.0,737.2 1267.0,746.0 C1281.0,754.8 1295.0,762.8 1309.0,770.0 C1323.0,777.2 1336.8,783.7 1351.0,789.0 C1365.2,794.3 1378.3,798.7 1394.0,802.0 C1409.7,805.3 1436.5,807.8 1445.0,809.0" fill="none" stroke="#f4f4f2" stroke-width="7" transform="translate(0,-3)"/>
<line x1="383.0" y1="231.0" x2="383.0" y2="440.0" stroke="#39b2a9" stroke-width="3.5" stroke-dasharray="14 7.5"/>
<line x1="383" y1="216" x2="383" y2="222" stroke="#39b2a9" stroke-width="3.5"/>
<line x1="1120.0" y1="193.5" x2="1120.0" y2="330.0" stroke="#39b2a9" stroke-width="3.5" stroke-dasharray="14 7.5"/>
<line x1="260.0" y1="620.0" x2="260.0" y2="1116.0" stroke="#39b2a9" stroke-width="3.5" stroke-dasharray="14 7.5"/>
<line x1="857.0" y1="1045.0" x2="857.0" y2="1221.0" stroke="#39b2a9" stroke-width="3.5" stroke-dasharray="14 7.5"/>
<circle cx="383.0" cy="456.0" r="27" fill="#72d6ce" fill-opacity="0.54"/><circle cx="383.0" cy="456.0" r="17.5" fill="#33c3b7"/>
<circle cx="1120.0" cy="346.0" r="27" fill="#72d6ce" fill-opacity="0.54"/><circle cx="1120.0" cy="346.0" r="17.5" fill="#33c3b7"/>
<circle cx="260.5" cy="602.5" r="27" fill="#72d6ce" fill-opacity="0.54"/><circle cx="260.5" cy="602.5" r="17.5" fill="#33c3b7"/>
<circle cx="857.0" cy="1029.0" r="27" fill="#72d6ce" fill-opacity="0.54"/><circle cx="857.0" cy="1029.0" r="17.5" fill="#33c3b7"/>
<rect x="131.0" y="125.0" width="506.0" height="88.0" rx="44.0" fill="#c2ebe8"/><rect x="135.5" y="129.5" width="497.0" height="79.0" rx="39.5" fill="#3bbcb5"/><text x="154.0" y="180.0" font-family="Liberation Sans, sans-serif" font-weight="bold" font-size="37.5" fill="#f7fcfb" textLength="463.5" lengthAdjust="spacingAndGlyphs">Regenerated sponge layer</text>
<rect x="851.0" y="99.0" width="539.0" height="89.0" rx="44.5" fill="#c2ebe8"/><rect x="855.5" y="103.5" width="530.0" height="80.0" rx="40.0" fill="#3bbcb5"/><text x="873.0" y="154.0" font-family="Liberation Sans, sans-serif" font-weight="bold" font-size="37.5" fill="#f7fcfb" textLength="498.5" lengthAdjust="spacingAndGlyphs">Nappa leather fabric surface</text>
<rect x="41.0" y="1119.0" width="441.0" height="88.0" rx="44.0" fill="#c2ebe8"/><rect x="45.5" y="1123.5" width="432.0" height="79.0" rx="39.5" fill="#3bbcb5"/><text x="64.0" y="1173.0" font-family="Liberation Sans, sans-serif" font-weight="bold" font-size="37.5" fill="#f7fcfb" textLength="401.5" lengthAdjust="spacingAndGlyphs">Foam absorbent layer</text>
<rect x="629.0" y="1221.0" width="457.0" height="88.0" rx="44.0" fill="#c2ebe8"/><rect x="633.5" y="1225.5" width="448.0" height="79.0" rx="39.5" fill="#3bbcb5"/><text x="649.0" y="1274.0" font-family="Liberation Sans, sans-serif" font-weight="bold" font-size="37.5" fill="#f7fcfb" textLength="428.5" lengthAdjust="spacingAndGlyphs">Non-slip rubber bottom</text>
<text x="241.5" y="113.0" font-family="Liberation Sans, sans-serif" font-size="30" fill="#111" textLength="291.0" lengthAdjust="spacingAndGlyphs">Soft and comfortable</text>
<text x="861.5" y="57.0" font-family="Liberation Sans, sans-serif" font-size="30" fill="#111" textLength="497.5" lengthAdjust="spacingAndGlyphs">Rapid penetration of mois-ture does</text>
<text x="861.5" y="84.0" font-family="Liberation Sans, sans-serif" font-size="30" fill="#111" textLength="213.5" lengthAdjust="spacingAndGlyphs">not accumulate</text>
<text x="52.5" y="1244.0" font-family="Liberation Sans, sans-serif" font-size="30" fill="#111" textLength="432.0" lengthAdjust="spacingAndGlyphs">Absorb instantly and evaporate</text>
<text x="52.0" y="1272.0" font-family="Liberation Sans, sans-serif" font-size="30" fill="#111" textLength="100.5" lengthAdjust="spacingAndGlyphs">quickly</text>
<text x="652.5" y="1348.0" font-family="Liberation Sans, sans-serif" font-size="30" fill="#111" textLength="383.5" lengthAdjust="spacingAndGlyphs">Anti-slip texture for firm grip</text>
</svg>
</body></html>
